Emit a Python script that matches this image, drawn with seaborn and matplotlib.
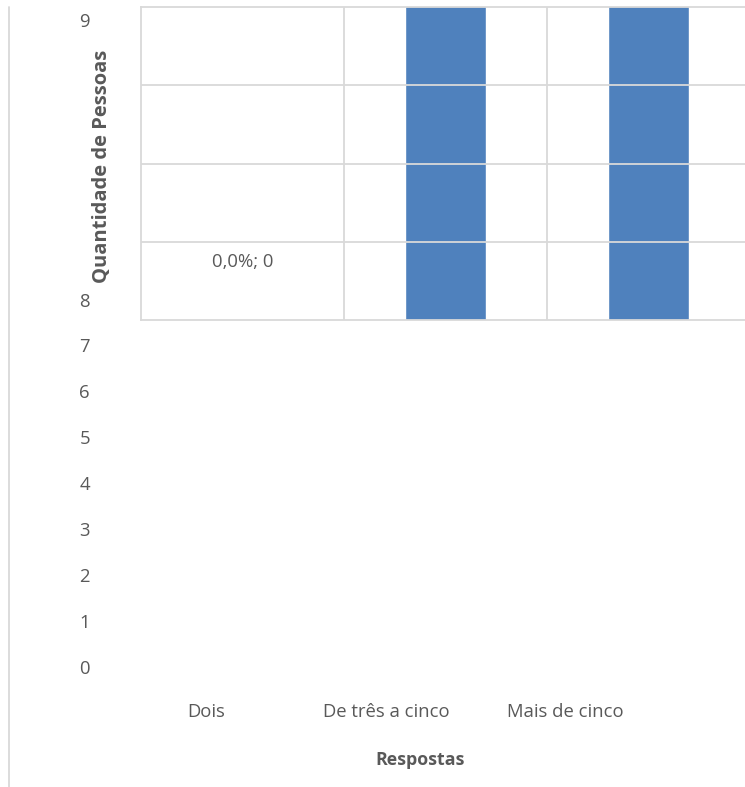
import pandas as pd
import seaborn as sns
import matplotlib.pyplot as plt
from matplotlib.lines import Line2D

# data (bars run past the top of the visible area)
respostas = ["Dois", "De três a cinco", "Mais de cinco"]
pessoas = [0, 10, 10]
percentual = [0.0, 50.0, 50.0]
y_ticks_low = [0, 1, 2, 3, 4, 5, 6, 7]
y_ticks_high = [8, 9]

df = pd.DataFrame({"Respostas": respostas, "Pessoas": pessoas})

sns.set_theme(style="white")
plt.rcParams["font.family"] = ["Open Sans", "DejaVu Sans"]
grey = "#595959"
grid = "#d9d9d9"
blue = "#4f81bd"
fs = 13.3

W, H = 745, 787
fig = plt.figure(figsize=(W / 100, H / 100), dpi=100)

def box(x0, y0, x1, y1):
    # pixel box (top-left origin) -> figure fraction
    return [x0 / W, 1 - y1 / H, (x1 - x0) / W, (y1 - y0) / H]

# lower axis carrying the 0..7 ticks and category labels
ax2 = fig.add_axes(box(117, 7, 655, 667))
ax2.set_ylim(0, 660 / 46)
ax2.set_xlim(-0.5, 2.5)
ax2.set_yticks(y_ticks_low)
ax2.set_yticklabels([str(v) for v in y_ticks_low], color=grey, fontsize=fs)
ax2.set_xticks(range(len(respostas)))
ax2.set_xticklabels(respostas, color=grey, fontsize=fs)
ax2.tick_params(axis="y", length=0, pad=27 * 0.72)
ax2.tick_params(axis="x", length=0, pad=36 * 0.72)
ax2.set_xlabel("Respostas", color=grey, fontsize=12.8, fontweight="bold")
ax2.xaxis.set_label_coords((420 - 117) / 538, -(751 - 667) / 660)
for s in ax2.spines.values():
    s.set_visible(False)
ax2.patch.set_alpha(0)

# upper plot area with the bars
ax = fig.add_axes(box(141, 7, 750, 320))
sns.barplot(data=df, x="Respostas", y="Pessoas", color=blue, width=0.4,
            saturation=1, ax=ax, zorder=2)
ax.set_ylim(8, 9)
ax.set_xlim(-0.5, 2.5)
for v in [8.25, 8.5, 8.75]:
    ax.axhline(v, color=grid, lw=1.3, zorder=3)
for v in [0.5, 1.5]:
    ax.axvline(v, color=grid, lw=1.3, zorder=1)
for s in ax.spines.values():
    s.set_color(grid)
    s.set_linewidth(1.3)
ax.set_xticks([])
ax.set_xlabel("")
ax.set_yticks([8 + 20 / 313, 9 - 13 / 313])
ax.set_yticklabels([str(v) for v in y_ticks_high], color=grey, fontsize=fs)
ax.tick_params(axis="y", length=0, pad=51 * 0.72)
ax.set_ylabel("Quantidade de Pessoas", color=grey, fontsize=14.5, fontweight="bold")
ax.yaxis.set_label_coords(-(141 - 112) / 609, 0.49)

lbl = f"{percentual[0]:.1f}%; {pessoas[0]}".replace(".", ",")
ax.text(0, 8 + (320 - 262) / 313, lbl, ha="center", va="center",
        color=grey, fontsize=fs, zorder=4)

fig.add_artist(Line2D([9 / W, 9 / W], [0, 1 - 7 / H], transform=fig.transFigure,
                      color=grid, lw=1.3))

fig.savefig("out.png", dpi=100)
